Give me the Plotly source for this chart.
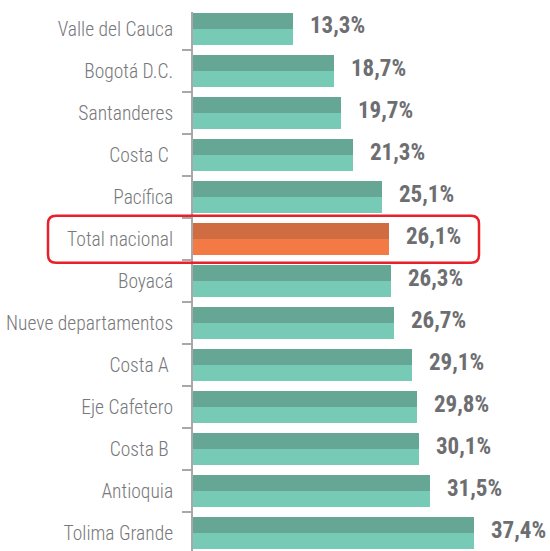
import plotly.graph_objects as go

categories = ["Valle del Cauca", "Bogotá D.C.", "Santanderes", "Costa C ", "Pacífica",
              "Total nacional", "Boyacá", "Nueve departamentos", "Costa A ", "Eje Cafetero",
              "Costa B ", "Antioquia", "Tolima Grande"]
values = [13.3, 18.7, 19.7, 21.3, 25.1, 26.1, 26.3, 26.7, 29.1, 29.8, 30.1, 31.5, 37.4]
value_labels = ["13,3%", "18,7%", "19,7%", "21,3%", "25,1%", "26,1%", "26,3%", "26,7%",
                "29,1%", "29,8%", "30,1%", "31,5%", "37,4%"]
highlight = "Total nacional"

DARK_TEAL, LIGHT_TEAL = "#65a794", "#76cab6"
DARK_ORANGE, LIGHT_ORANGE = "#cf6c42", "#f47a45"
dark_colors = [DARK_ORANGE if c == highlight else DARK_TEAL for c in categories]
light_colors = [LIGHT_ORANGE if c == highlight else LIGHT_TEAL for c in categories]

FONT = "Roboto Condensed, Roboto, sans-serif"

W, H = 550, 551
L, R, T, B = 193, 0, 12, 0
pw, ph = W - L - R, H - T - B
px_per_unit = 7.52
y_top, y_bottom = -0.404, 12.417
row_px = ph / (y_bottom - y_top)

fig = go.Figure()
fig.add_trace(go.Bar(y=categories, x=values, orientation="h", marker_color=dark_colors,
                     marker_line_width=0, width=0.38, offset=-0.38, hoverinfo="x+y"))
fig.add_trace(go.Bar(y=categories, x=values, orientation="h", marker_color=light_colors,
                     marker_line_width=0, width=0.38, offset=0.0, hoverinfo="x+y"))

for c, v, t in zip(categories, values, value_labels):
    fig.add_annotation(x=v, y=c, text="<b>%s</b>" % t, showarrow=False, xanchor="left",
                       yanchor="middle", xshift=15, yshift=3,
                       font=dict(family=FONT, size=23, color="#6d6e71"))

# rounded highlight box around "Total nacional"
i = categories.index(highlight)
cy = T + (i - y_top) * row_px  # pixel centre of the highlighted row
x0p, x1p = 48, 479
y0p, y1p = cy - 23.5, cy + 23.5
r = 8
def fx(p): return (p - L) / pw
def fy(p): return (H - B - p) / ph
path = (f"M {fx(x0p + r)},{fy(y0p)} L {fx(x1p - r)},{fy(y0p)} Q {fx(x1p)},{fy(y0p)} {fx(x1p)},{fy(y0p + r)} "
        f"L {fx(x1p)},{fy(y1p - r)} Q {fx(x1p)},{fy(y1p)} {fx(x1p - r)},{fy(y1p)} "
        f"L {fx(x0p + r)},{fy(y1p)} Q {fx(x0p)},{fy(y1p)} {fx(x0p)},{fy(y1p - r)} "
        f"L {fx(x0p)},{fy(y0p + r)} Q {fx(x0p)},{fy(y0p)} {fx(x0p + r)},{fy(y0p)} Z")
fig.add_shape(type="path", path=path, xref="paper", yref="paper",
              line=dict(color="#e8202a", width=2.5), fillcolor="rgba(0,0,0,0)")

fig.update_layout(
    width=W, height=H, margin=dict(l=L, r=R, t=T, b=B, pad=0),
    paper_bgcolor="white", plot_bgcolor="white", showlegend=False,
    barmode="overlay", bargap=0,
    font=dict(family=FONT, color="#77787b"),
)
fig.update_xaxes(range=[0, pw / px_per_unit], visible=False, fixedrange=True)
fig.update_yaxes(type="category", range=[y_bottom, y_top], showline=True, linecolor="#a8a8a8",
                 linewidth=2, ticks="outside", tickson="boundaries", ticklen=9,
                 tickcolor="#a8a8a8", tickwidth=1.5, showgrid=False, zeroline=False,
                 tickfont=dict(family=FONT, size=19.5, color="#77787b", weight=300),
                 ticklabelstandoff=14, fixedrange=True)

fig.write_html("out.html", config={"displayModeBar": False},
               post_script="document.body.style.margin='0';")
